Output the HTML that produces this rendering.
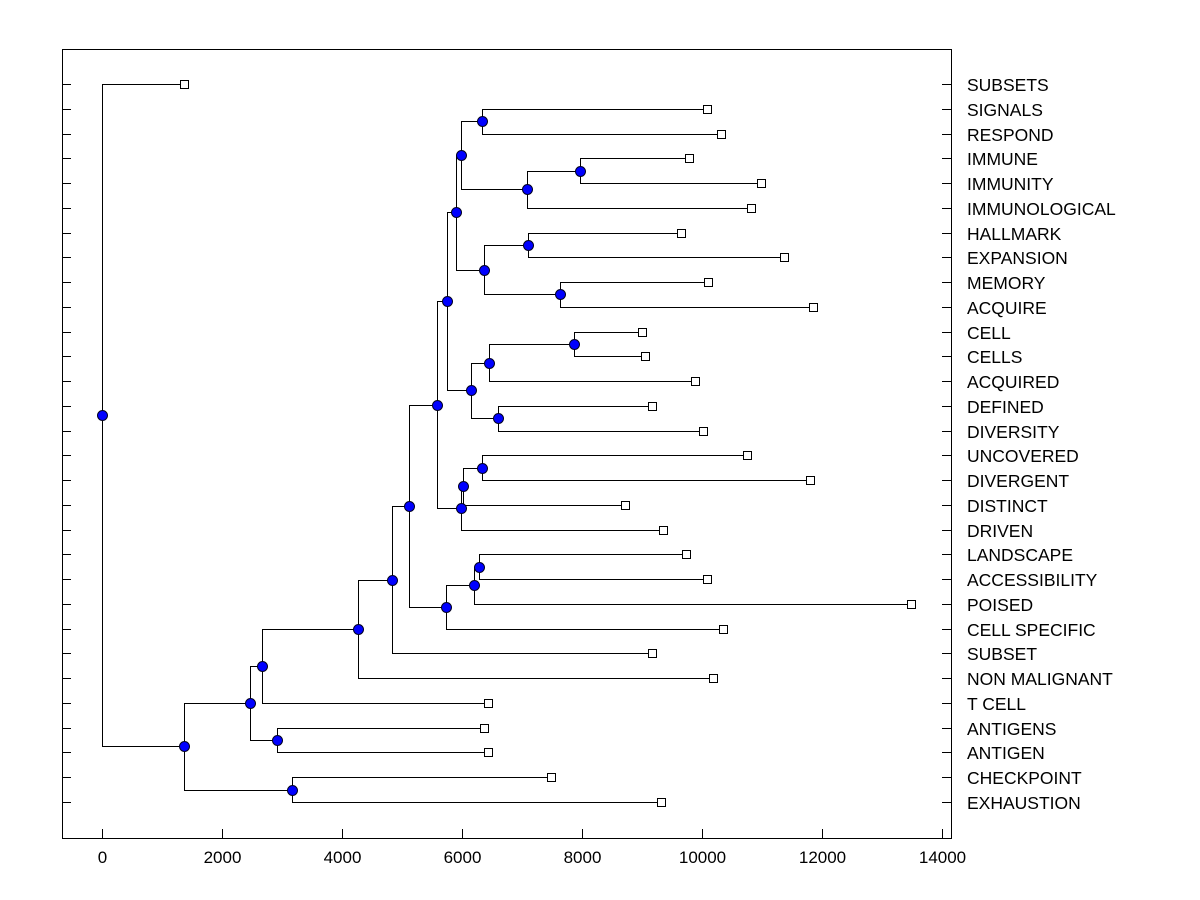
<!DOCTYPE html>
<html><head><meta charset="utf-8"><style>
html,body{margin:0;padding:0;background:#fff;}
svg{display:block;font-family:"Liberation Sans",Arial,sans-serif;}
</style></head><body>
<svg id="chart" width="1200" height="900"></svg>
<script>
const leaves=["SUBSETS","SIGNALS","RESPOND","IMMUNE","IMMUNITY","IMMUNOLOGICAL","HALLMARK","EXPANSION","MEMORY","ACQUIRE","CELL","CELLS","ACQUIRED","DEFINED","DIVERSITY","UNCOVERED","DIVERGENT","DISTINCT","DRIVEN","LANDSCAPE","ACCESSIBILITY","POISED","CELL SPECIFIC","SUBSET","NON MALIGNANT","T CELL","ANTIGENS","ANTIGEN","CHECKPOINT","EXHAUSTION"];
const leafValues=[1368,10079,10312,9778,10980,10813,9645,11363,10095,11847,8994,9044,9878,9161,10012,10746,11797,8710,9344,9728,10079,13483,10345,9161,10179,6441,6374,6441,7475,9311];
const mergeLeft=[1,3,31,30,6,8,34,33,10,38,13,39,37,15,43,44,42,19,47,48,46,50,51,52,26,53,28,55,0];
const mergeRight=[2,4,5,32,7,9,35,36,11,12,14,40,41,16,17,18,45,20,21,22,49,23,24,25,27,54,29,56,57];
const mergeHeights=[6341,7959,7075,5990,7108,7626,6374,5907,7860,6457,6608,6157,5757,6341,6024,5990,5590,6291,6207,5740,5123,4839,4272,2670,2920,2470,3170,1368,0];
const xTicks=[0,2000,4000,6000,8000,10000,12000,14000];

const svg=document.getElementById('chart');
const NS='http://www.w3.org/2000/svg';
const X0=102, XS=0.06, Y0=84, YS=(802-84)/29;
const xs=v=>X0+v*XS;
function mk(t,a,p){const e=document.createElementNS(NS,t);for(const k in a)e.setAttribute(k,a[k]);(p||svg).appendChild(e);return e;}

const frame=mk('rect',{x:62.5,y:49.5,width:889,height:789,fill:'none',stroke:'#000','stroke-width':1});



const pos=[];
leaves.forEach((l,i)=>{pos.push({x:xs(leafValues[i]),y:Y0+i*YS});});
mergeHeights.forEach((h,k)=>{const a=pos[mergeLeft[k]],b=pos[mergeRight[k]];pos.push({x:xs(h),y:(a.y+b.y)/2});});

const lines=mk('g',{stroke:'#000','stroke-width':1,fill:'none'});


mergeHeights.forEach((h,k)=>{
  const p=pos[leaves.length+k],a=pos[mergeLeft[k]],b=pos[mergeRight[k]];
  const px=Math.round(p.x)+0.5,ay=Math.round(a.y)+0.5,by=Math.round(b.y)+0.5;
  const d=`M${Math.round(a.x)+0.5},${ay}H${px}V${by}H${Math.round(b.x)+0.5}`;
  const e=mk('path',{d:d},lines);
  
  
});
leaves.forEach((l,i)=>{
  const y=Math.round(Y0+i*YS)+0.5;
  const t1=mk('line',{x1:62,x2:71,y1:y,y2:y,stroke:'#000'});
  
  
  const t2=mk('line',{x1:942,x2:951,y1:y,y2:y,stroke:'#000'});
  
  
  const tx=mk('text',{x:967,y:y+6.5,'font-size':17.5,fill:'#000'});
  tx.textContent=l;
  
  
});
leaves.forEach((l,i)=>{
  const p=pos[i];
  const r=mk('rect',{x:Math.round(p.x)-3.5,y:Math.round(p.y)-3.5,width:8,height:8,fill:'#fff',stroke:'#000'});
  
  
});
mergeHeights.forEach((h,k)=>{
  const p=pos[leaves.length+k];
  const c=mk('circle',{cx:Math.round(p.x)+0.5,cy:Math.round(p.y)+0.5,r:5,fill:'#0000ff',stroke:'#000022','stroke-width':1});
  
  
});
xTicks.forEach(v=>{
  const x=Math.round(xs(v))+0.5;
  const t=mk('line',{x1:x,x2:x,y1:829,y2:838,stroke:'#000'});
  
  
  const tx=mk('text',{x:x,y:863,'font-size':17,'text-anchor':'middle',fill:'#000'});
  tx.textContent=v;
  
  
});
</script>
</body></html>
